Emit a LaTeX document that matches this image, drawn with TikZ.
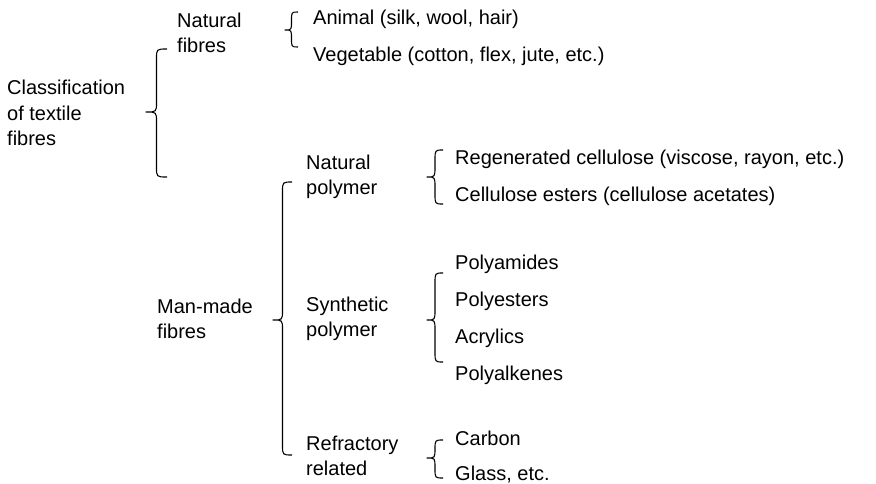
\documentclass[tikz,border=0pt]{standalone}
\usepackage{fontspec}
\setmainfont{Liberation Sans}
\begin{document}
\begin{tikzpicture}[x=1pt,y=-1pt,
  lbl/.style={anchor=west,inner sep=0pt,align=left,font=\fontsize{20}{25.5}\selectfont},
  brc/.style={line width=1.1pt,line join=round}]
\useasboundingbox[fill=white] (0,0) rectangle (876,484);
% brace macro: #1 tip x, #2 right x, #3 top, #4 tip y, #5 bottom
\newcommand\mybrace[5]{%
  \pgfmathsetmacro\xm{(#1+#2)/2}%
  \pgfmathsetmacro\rr{min(10,(#5-#3)/4)}%
  \draw[brc] (#2,#3) .. controls (\xm,#3) .. (\xm,#3+\rr) -- (\xm,#4-\rr)
     .. controls (\xm,#4) .. (#1,#4) .. controls (\xm,#4) .. (\xm,#4+\rr)
     -- (\xm,#5-\rr) .. controls (\xm,#5) .. (#2,#5);}
% nodes
\node[lbl] (root) at (7,113) {Classification\\of textile\\fibres};
\node[lbl] (nat) at (177,33) {Natural\\fibres};
\node[lbl] (anim) at (313,19) {Animal (silk, wool, hair)};
\node[lbl] (veg) at (313,56) {Vegetable (cotton, flex, jute, etc.)};
\node[lbl] (man) at (157,319) {Man-made\\fibres};
\node[lbl] (npol) at (306,177) {Natural\\polymer};
\node[lbl] (regen) at (455,159) {Regenerated cellulose (viscose, rayon, etc.)};
\node[lbl] (cest) at (455,196) {Cellulose esters (cellulose acetates)};
\node[lbl] (spol) at (306,319) {Synthetic\\polymer};
\node[lbl] (pam) at (455,264) {Polyamides};
\node[lbl] (pes) at (455,301) {Polyesters};
\node[lbl] (acr) at (455,338) {Acrylics};
\node[lbl] (palk) at (455,375) {Polyalkenes};
\node[lbl] (refr) at (306,456) {Refractory\\related};
\node[lbl] (carb) at (455,438) {Carbon};
\node[lbl] (glass) at (455,475) {Glass, etc.};
% braces
\mybrace{146}{167}{49}{112}{177}
\mybrace{285}{298}{12}{30}{47}
\mybrace{273}{292}{182}{320}{455}
\mybrace{427}{443}{150}{177}{204}
\mybrace{427}{443}{273}{320}{362}
\mybrace{427}{443}{440}{458}{478}
\end{tikzpicture}
\end{document}
